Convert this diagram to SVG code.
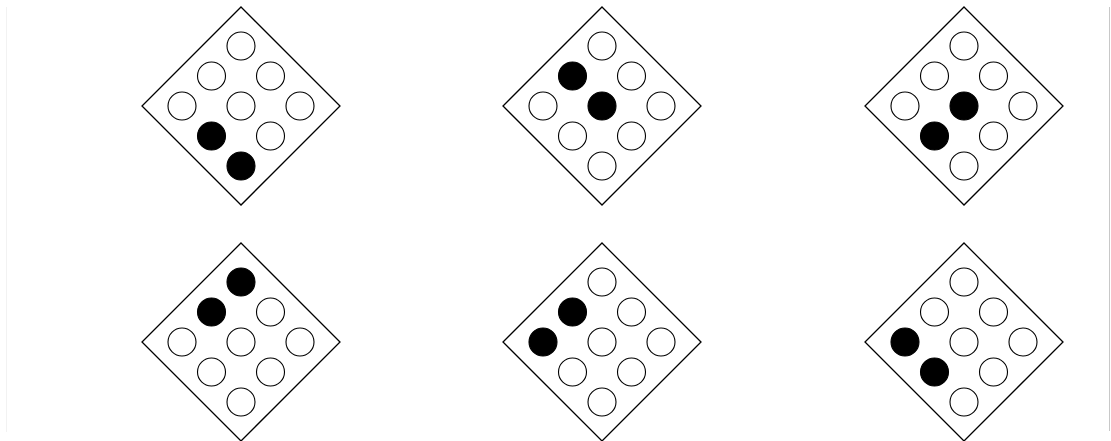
<svg xmlns="http://www.w3.org/2000/svg" xmlns:xlink="http://www.w3.org/1999/xlink" width="1111" height="441" viewBox="0 0 1111 441">
<style>
.frame{fill:#fff;stroke:#000;stroke-width:1.3}
.o{fill:#fff;stroke:#000;stroke-width:1.1}
.f{fill:#000;stroke:#000;stroke-width:1.1}
.edge{stroke-width:1;fill:none}
</style>
<defs>
<polygon id="dia" points="0,-99 99,0 0,99 -99,0"/>
<circle id="c" r="14"/>
</defs>
<rect width="1111" height="441" fill="#fff"/>
<line class="edge" x1="6.5" y1="7" x2="6.5" y2="432" stroke="#f2f2f2"/>
<line class="edge" x1="1109.5" y1="7" x2="1109.5" y2="431" stroke="#c8c8c8"/>
<g id="pattern1" transform="translate(241,106)">
<use href="#dia" class="frame"/>
<use href="#c" class="o" x="0" y="-60"/>
<use href="#c" class="o" x="-29.5" y="-30"/>
<use href="#c" class="o" x="29.5" y="-30"/>
<use href="#c" class="o" x="-59" y="0"/>
<use href="#c" class="o" x="0" y="0"/>
<use href="#c" class="o" x="59" y="0"/>
<use href="#c" class="f" x="-29.5" y="30"/>
<use href="#c" class="o" x="29.5" y="30"/>
<use href="#c" class="f" x="0" y="60"/>
</g>
<g id="pattern2" transform="translate(602,106)">
<use href="#dia" class="frame"/>
<use href="#c" class="o" x="0" y="-60"/>
<use href="#c" class="f" x="-29.5" y="-30"/>
<use href="#c" class="o" x="29.5" y="-30"/>
<use href="#c" class="o" x="-59" y="0"/>
<use href="#c" class="f" x="0" y="0"/>
<use href="#c" class="o" x="59" y="0"/>
<use href="#c" class="o" x="-29.5" y="30"/>
<use href="#c" class="o" x="29.5" y="30"/>
<use href="#c" class="o" x="0" y="60"/>
</g>
<g id="pattern3" transform="translate(964,106)">
<use href="#dia" class="frame"/>
<use href="#c" class="o" x="0" y="-60"/>
<use href="#c" class="o" x="-29.5" y="-30"/>
<use href="#c" class="o" x="29.5" y="-30"/>
<use href="#c" class="o" x="-59" y="0"/>
<use href="#c" class="f" x="0" y="0"/>
<use href="#c" class="o" x="59" y="0"/>
<use href="#c" class="f" x="-29.5" y="30"/>
<use href="#c" class="o" x="29.5" y="30"/>
<use href="#c" class="o" x="0" y="60"/>
</g>
<g id="pattern4" transform="translate(241,342)">
<use href="#dia" class="frame"/>
<use href="#c" class="f" x="0" y="-60"/>
<use href="#c" class="f" x="-29.5" y="-30"/>
<use href="#c" class="o" x="29.5" y="-30"/>
<use href="#c" class="o" x="-59" y="0"/>
<use href="#c" class="o" x="0" y="0"/>
<use href="#c" class="o" x="59" y="0"/>
<use href="#c" class="o" x="-29.5" y="30"/>
<use href="#c" class="o" x="29.5" y="30"/>
<use href="#c" class="o" x="0" y="60"/>
</g>
<g id="pattern5" transform="translate(602,342)">
<use href="#dia" class="frame"/>
<use href="#c" class="o" x="0" y="-60"/>
<use href="#c" class="f" x="-29.5" y="-30"/>
<use href="#c" class="o" x="29.5" y="-30"/>
<use href="#c" class="f" x="-59" y="0"/>
<use href="#c" class="o" x="0" y="0"/>
<use href="#c" class="o" x="59" y="0"/>
<use href="#c" class="o" x="-29.5" y="30"/>
<use href="#c" class="o" x="29.5" y="30"/>
<use href="#c" class="o" x="0" y="60"/>
</g>
<g id="pattern6" transform="translate(964,342)">
<use href="#dia" class="frame"/>
<use href="#c" class="o" x="0" y="-60"/>
<use href="#c" class="o" x="-29.5" y="-30"/>
<use href="#c" class="o" x="29.5" y="-30"/>
<use href="#c" class="f" x="-59" y="0"/>
<use href="#c" class="o" x="0" y="0"/>
<use href="#c" class="o" x="59" y="0"/>
<use href="#c" class="f" x="-29.5" y="30"/>
<use href="#c" class="o" x="29.5" y="30"/>
<use href="#c" class="o" x="0" y="60"/>
</g>
<g id="connectors"/>
</svg>
